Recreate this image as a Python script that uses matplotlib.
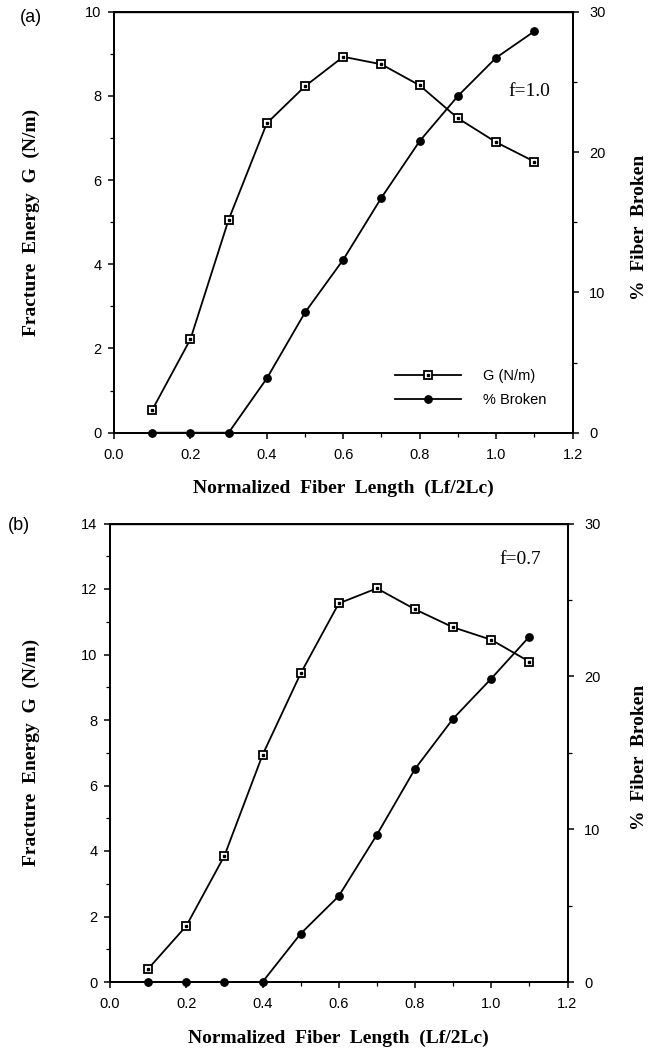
import matplotlib
matplotlib.use("Agg")
import matplotlib.pyplot as plt
from matplotlib.ticker import MultipleLocator

# ---- data ----
x_len = [0.1, 0.2, 0.3, 0.4, 0.5, 0.6, 0.7, 0.8, 0.9, 1.0, 1.1]
g_a = [0.54, 2.22, 5.06, 7.35, 8.23, 8.93, 8.75, 8.25, 7.47, 6.90, 6.44]
brk_a = [0.0, 0.0, 0.0, 3.87, 8.57, 12.33, 16.75, 20.78, 23.99, 26.72, 28.6]
g_b = [0.40, 1.71, 3.85, 6.93, 9.42, 11.56, 12.02, 11.38, 10.83, 10.45, 9.78]
brk_b = [0.0, 0.0, 0.0, 0.0, 3.16, 5.62, 9.63, 13.94, 17.23, 19.85, 22.6]
x_ticks = [0.0, 0.2, 0.4, 0.6, 0.8, 1.0, 1.2]
x_ticklabels = ["0.0", "0.2", "0.4", "0.6", "0.8", "1.0", "1.2"]
right_ticks = [0, 10, 20, 30]
legend_labels = ["G (N/m)", "% Broken"]
xlabel = "Normalized  Fiber  Length  (Lf/2Lc)"
ylabel_left = "Fracture  Energy  G  (N/m)"
ylabel_right = "%  Fiber  Broken"

W, H = 649, 1050
fig = plt.figure(figsize=(W / 100, H / 100), dpi=100)

SANS = ["Liberation Sans", "DejaVu Sans"]
SERIF = ["Liberation Serif", "DejaVu Serif"]

def fx(px):
    return px / W

def fy(py):
    return 1 - py / H

panels = [
    dict(g=g_a, b=brk_a, left=114, right=572.5, top=11.7, bottom=432.7,
         gmax=10, tag="(a)", tagpos=(20, 18), f="f=1.0", fpos=(529, 92), legend=True),
    dict(g=g_b, b=brk_b, left=110, right=567.5, top=523.5, bottom=982,
         gmax=14, tag="(b)", tagpos=(8, 525), f="f=0.7", fpos=(520, 560), legend=False),
]

for p in panels:
    ax = fig.add_axes([fx(p["left"]), fy(p["bottom"]),
                       fx(p["right"] - p["left"]), (p["bottom"] - p["top"]) / H])
    ax2 = ax.twinx()

    # G series: open squares with a centre dot
    lg, = ax.plot(x_len, p["g"], color="black", lw=1.3, marker="s", ms=5.8,
                  mfc="white", mec="black", mew=1.3, zorder=3, clip_on=False)
    ld, = ax.plot(x_len, p["g"], ls="none", marker="s", ms=1.6, color="black",
                  zorder=4, clip_on=False)
    # % broken series: filled circles
    lb, = ax2.plot(x_len, p["b"], color="black", lw=1.3, marker="o", ms=5.3,
                   mfc="black", mec="black", zorder=3, clip_on=False)

    ax.set_xlim(0, 1.2)
    ax.set_ylim(0, p["gmax"])
    ax2.set_ylim(0, 30)
    ax.set_xticks(x_ticks)
    ax.set_xticklabels(x_ticklabels)
    ax.xaxis.set_minor_locator(MultipleLocator(0.1))
    ax.yaxis.set_major_locator(MultipleLocator(2))
    ax.yaxis.set_minor_locator(MultipleLocator(1))
    ax2.set_yticks(right_ticks)
    ax2.yaxis.set_minor_locator(MultipleLocator(5))

    for a in (ax, ax2):
        for s in a.spines.values():
            s.set_linewidth(1.4)
        a.tick_params(which="major", direction="out", length=4, width=1.1,
                      labelsize=10.5, colors="black")
        a.tick_params(which="minor", direction="out", length=3, width=0.9)
        for t in a.get_xticklabels() + a.get_yticklabels():
            t.set_family(SANS)
    ax.spines["top"].set_linewidth(1.0)
    ax.tick_params(axis="x", which="major", pad=7)
    ax.tick_params(axis="y", which="major", pad=5)
    ax2.tick_params(axis="y", which="major", pad=8)

    # axis labels
    ax.set_xlabel(xlabel, family=SERIF, fontweight="bold", fontsize=14, labelpad=13)
    fig.text(fx(31), fy((p["top"] + p["bottom"]) / 2), ylabel_left, rotation=90,
             family=SERIF, fontweight="bold", fontsize=14, ha="center", va="center")
    fig.text(fx(640), fy((p["top"] + p["bottom"]) / 2 + 5), ylabel_right, rotation=90,
             family=SERIF, fontweight="bold", fontsize=14, ha="center", va="center")

    fig.text(fx(p["tagpos"][0]), fy(p["tagpos"][1]), p["tag"], family=SANS,
             fontsize=13, ha="left", va="center")
    fig.text(fx(p["fpos"][0]), fy(p["fpos"][1]), p["f"], family=SERIF, fontsize=14,
             ha="center", va="center")

    if p["legend"]:
        leg = ax2.legend([(lg, ld), lb], legend_labels, loc="lower left",
                         bbox_to_anchor=(0.585, 0.03), frameon=False,
                         handlelength=4.5, handletextpad=1.5, labelspacing=0.7,
                         prop=dict(family=SANS, size=10.5))

fig.savefig("out.png", dpi=100)
